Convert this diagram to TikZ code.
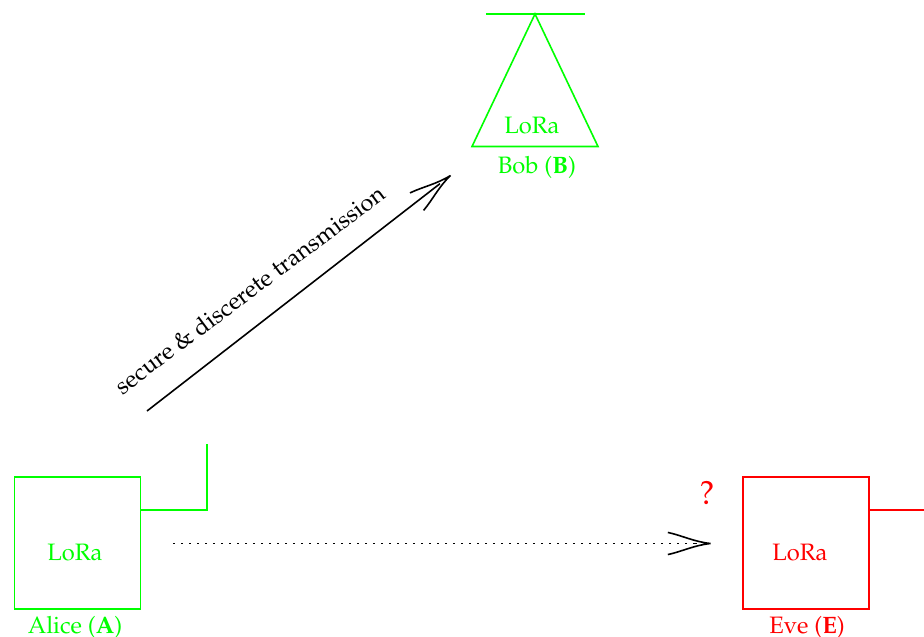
\documentclass[tikz,border=0pt]{standalone}
\usepackage[T1]{fontenc}
\usepackage{mathpazo}
\usetikzlibrary{arrows.meta}
\pgfdeclarearrow{
  name=LongBarb,
  setup code={\pgfarrowssettipend{0pt}\pgfarrowssetlineend{-10pt}\pgfarrowssetbackend{-32pt}\pgfarrowssetvisualbackend{-10pt}\pgfarrowssetvisualtipend{0pt}},
  drawing code={
    \pgfsetdash{}{0pt}\pgfsetmiterlimit{6}\pgfsetbuttcap\pgfsetmiterjoin
    \pgfpathmoveto{\pgfqpoint{-32pt}{8.3pt}}
    \pgfpathcurveto{\pgfqpoint{-22pt}{6.2pt}}{\pgfqpoint{-12pt}{1.2pt}}{\pgfqpoint{0pt}{0pt}}
    \pgfpathcurveto{\pgfqpoint{-12pt}{-1.2pt}}{\pgfqpoint{-22pt}{-6.2pt}}{\pgfqpoint{-32pt}{-8.3pt}}
    \pgfusepathqstroke
  },
}
\tikzset{
  x=0.75pt,y=-0.75pt,
  lab/.style={inner sep=0pt,font=\fontsize{17.8}{20}\selectfont},
  box/.style={draw,line width=1.2pt,minimum width=94.5pt,minimum height=99pt,inner sep=0pt},
  wire/.style={line width=1.2pt},
  big/.style={-LongBarb,line width=1.2pt,black},
}
\begin{document}
\begin{tikzpicture}
\useasboundingbox (0,0) rectangle (924,636);
% Alice
\node[box,color=green] (alice) at (77.5,543) {};
\node[lab,text=green] (alicelora) at (75,552.5) {LoRa};
\node[lab,text=green] (alicename) at (75,627) {Alice (\textbf{A})};
\coordinate (aliceant) at (207,444);
\draw[wire,green] (alice.east |- 0,510) -| (aliceant);
% Eve
\node[box,color=red] (eve) at (806,543) {};
\node[lab,text=red] (evelora) at (800,552.5) {LoRa};
\node[lab,text=red] (evename) at (807,627) {Eve (\textbf{E})};
\node[inner sep=0pt,text=red,font=\fontsize{25}{26}\selectfont] (q) at (707,493) {?};
\coordinate (eveant) at (924,510);
\draw[wire,red] (eve.east |- 0,510) -- (eveant);
% Bob
\coordinate (apex) at (535,14);
\coordinate (bl) at (472,146.5);
\coordinate (br) at (598,146.5);
\coordinate (barl) at (486,14);
\coordinate (barr) at (585,14);
\draw[wire,green,line join=miter] (apex) -- (bl) -- (br) -- cycle;
\draw[wire,green] (barl) -- (barr);
\node[lab,text=green] (boblora) at (532,125.5) {LoRa};
\node[lab,text=green] (bobname) at (537,167) {Bob (\textbf{B})};
% Arrows
\coordinate (s1) at (147,411);
\coordinate (e1) at (450.5,175.5);
\draw[big] (s1) -- (e1);
\node[lab,rotate=36.8,text=black] (secure) at (249.5,289.5) {secure \& discerete transmission};
\coordinate (s2) at (173,543.5);
\coordinate (e2) at (710.5,543.5);
\coordinate (m2) at (694,543.5);
\draw[line width=1.2pt,dash pattern=on 1.2pt off 4.8pt] (s2) -- (m2);
\draw[big] (m2) -- (e2);
\end{tikzpicture}
\end{document}
